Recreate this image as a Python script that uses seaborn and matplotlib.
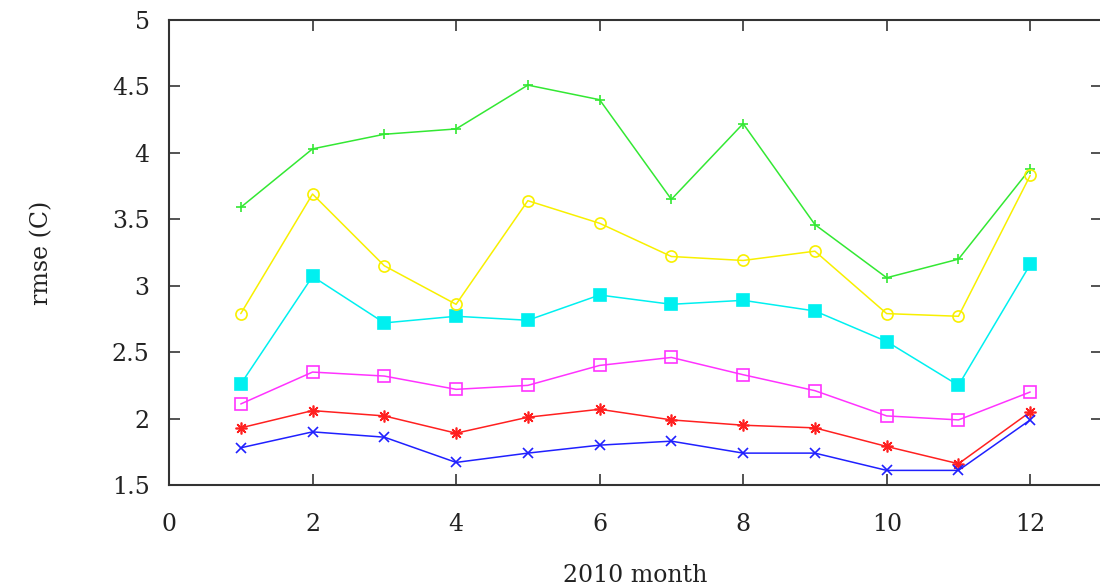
import matplotlib
matplotlib.use("Agg")
import matplotlib.pyplot as plt
import seaborn as sns
import pandas as pd
import numpy as np

months = list(range(1, 13))
green_vals = [3.59, 4.03, 4.14, 4.18, 4.51, 4.40, 3.65, 4.22, 3.46, 3.06, 3.20, 3.88]
yellow_vals = [2.79, 3.69, 3.15, 2.86, 3.64, 3.47, 3.22, 3.19, 3.26, 2.79, 2.77, 3.83]
cyan_vals = [2.26, 3.07, 2.72, 2.77, 2.74, 2.93, 2.86, 2.89, 2.81, 2.58, 2.25, 3.16]
magenta_vals = [2.11, 2.35, 2.32, 2.22, 2.25, 2.40, 2.46, 2.33, 2.21, 2.02, 1.99, 2.20]
red_vals = [1.93, 2.06, 2.02, 1.89, 2.01, 2.07, 1.99, 1.95, 1.93, 1.79, 1.66, 2.05]
blue_vals = [1.78, 1.90, 1.86, 1.67, 1.74, 1.80, 1.83, 1.74, 1.74, 1.61, 1.61, 1.99]

series_names = ["red", "green", "blue", "magenta", "cyan", "yellow"]
series_values = [red_vals, green_vals, blue_vals, magenta_vals, cyan_vals, yellow_vals]

styles = {
    "red": dict(color="#ff2020", marker=(8, 2, 0), mfc="#ff2020", ms=8.5),
    "green": dict(color="#33e833", marker="+", mfc="#33e833", ms=7),
    "blue": dict(color="#2020ff", marker="x", mfc="#2020ff", ms=7),
    "magenta": dict(color="#ff33ff", marker="s", mfc="none", ms=8),
    "cyan": dict(color="#00f0f0", marker="s", mfc="#00f0f0", ms=8),
    "yellow": dict(color="#f8f000", marker="o", mfc="none", ms=8),
}

df = pd.DataFrame({
    "month": np.tile(months, len(series_names)),
    "rmse": np.concatenate(series_values),
    "series": np.repeat(series_names, len(months)),
})

sns.set_style("ticks")
plt.rcParams["font.family"] = ["DejaVu Serif", "Liberation Serif"]

fig = plt.figure(figsize=(11, 5.88), dpi=100)
W, H = 1100, 588
left, right, top, bottom = 169, 1102, 20, 485
ax = fig.add_axes([left / W, 1 - bottom / H, (right - left) / W, (bottom - top) / H])

for name in series_names:
    st = styles[name]
    sub = df[df["series"] == name]
    sns.lineplot(data=sub, x="month", y="rmse", ax=ax, color=st["color"],
                 linewidth=1.1, marker=st["marker"], markersize=st["ms"],
                 markerfacecolor=st["mfc"], markeredgecolor=st["color"],
                 markeredgewidth=1.2, legend=False)

ax.set_xlim(0, 13)
ax.set_ylim(1.5, 5)
ax.set_xticks([0, 2, 4, 6, 8, 10, 12])
ax.set_yticks([1.5, 2, 2.5, 3, 3.5, 4, 4.5, 5])
ax.set_yticklabels(["1.5", "2", "2.5", "3", "3.5", "4", "4.5", "5"])
ax.tick_params(direction="in", length=8, width=1.3, color="#444444",
               top=True, right=True, labelsize=17, labelcolor="#222222")
ax.tick_params(axis="y", pad=14)
ax.tick_params(axis="x", pad=20)
for sp in ax.spines.values():
    sp.set_linewidth(1.5)
    sp.set_color("#333333")
ax.set_xlabel("2010 month", fontsize=17, color="#222222", labelpad=20)
ax.set_ylabel("rmse (C)", fontsize=17, color="#222222", labelpad=42)

fig.savefig("out.png", dpi=100)
